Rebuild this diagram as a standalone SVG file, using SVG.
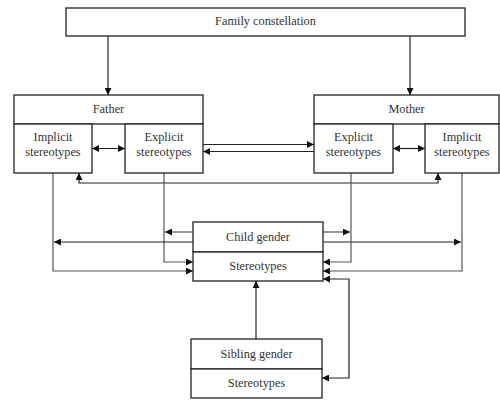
<svg xmlns="http://www.w3.org/2000/svg" width="500" height="400" viewBox="0 0 500 400">
<defs>
<marker id="ah" viewBox="0 0 10 10" refX="10" refY="5" markerWidth="7" markerHeight="7" markerUnits="userSpaceOnUse" orient="auto-start-reverse">
<path d="M0,0 L10,5 L0,10 z" fill="#111"/>
</marker>
<style>
.box{fill:#fff;stroke:#222;stroke-width:1.3}
.t{font-family:"Liberation Serif","Times New Roman",serif;font-size:12.3px;fill:#333;text-anchor:middle}
.c{fill:none;stroke:#222;stroke-width:1.2}
.g{fill:none;stroke:#555;stroke-width:1.2}
</style>
</defs>
<rect width="500" height="400" fill="#fff"/>
<g id="connectors">
<path class="c" d="M108,36 V95" marker-end="url(#ah)"/>
<path class="c" d="M410,36 V95" marker-end="url(#ah)"/>
<path class="c" d="M92,148.5 H125" marker-start="url(#ah)" marker-end="url(#ah)"/>
<path class="c" d="M393,148.5 H425" marker-start="url(#ah)" marker-end="url(#ah)"/>
<path class="c" d="M203,144.5 H314" marker-end="url(#ah)"/>
<path class="c" d="M314,151.5 H203" marker-end="url(#ah)"/>
<path class="c" d="M79,173 V183 H438 V173" marker-start="url(#ah)" marker-end="url(#ah)"/>
<path class="g" d="M53,173 V271 H193" marker-end="url(#ah)"/>
<path class="g" d="M164,173 V262 H193" marker-end="url(#ah)"/>
<path class="g" d="M193,232 H165" marker-end="url(#ah)"/>
<path class="c" d="M193,242 H54" marker-end="url(#ah)"/>
<path class="g" d="M323,232 H350" marker-end="url(#ah)"/>
<path class="c" d="M323,242 H461" marker-end="url(#ah)"/>
<path class="g" d="M351,173 V262 H323" marker-end="url(#ah)"/>
<path class="g" d="M462,173 V271 H323" marker-end="url(#ah)"/>
<path class="c" d="M256,339 V281" marker-end="url(#ah)"/>
<path class="c" d="M323,279 H349 V378 H322" marker-start="url(#ah)" marker-end="url(#ah)"/>
</g>
<g id="family">
<rect class="box" x="66" y="8" width="399" height="28"/>
<text class="t" x="265.5" y="25">Family constellation</text>
</g>
<g id="father">
<rect class="box" x="14" y="95" width="189" height="29"/>
<text class="t" x="108.5" y="112.5">Father</text>
</g>
<g id="father-implicit">
<rect class="box" x="14" y="124" width="78" height="49"/>
<text class="t" x="53" y="141">Implicit</text>
<text class="t" x="53" y="156">stereotypes</text>
</g>
<g id="father-explicit">
<rect class="box" x="125" y="124" width="78" height="49"/>
<text class="t" x="164" y="141">Explicit</text>
<text class="t" x="164" y="156">stereotypes</text>
</g>
<g id="mother">
<rect class="box" x="314" y="95" width="185" height="29"/>
<text class="t" x="406.5" y="112.5">Mother</text>
</g>
<g id="mother-explicit">
<rect class="box" x="314" y="124" width="79" height="49"/>
<text class="t" x="353.5" y="141">Explicit</text>
<text class="t" x="353.5" y="156">stereotypes</text>
</g>
<g id="mother-implicit">
<rect class="box" x="425" y="124" width="74" height="49"/>
<text class="t" x="462" y="141">Implicit</text>
<text class="t" x="462" y="156">stereotypes</text>
</g>
<g id="child">
<rect class="box" x="193" y="222" width="130" height="30"/>
<rect class="box" x="193" y="252" width="130" height="29"/>
<text class="t" x="258" y="241">Child gender</text>
<text class="t" x="258" y="270">Stereotypes</text>
</g>
<g id="sibling">
<rect class="box" x="191" y="339" width="131" height="30"/>
<rect class="box" x="191" y="369" width="131" height="29"/>
<text class="t" x="256.5" y="358">Sibling gender</text>
<text class="t" x="256.5" y="387">Stereotypes</text>
</g>
</svg>
